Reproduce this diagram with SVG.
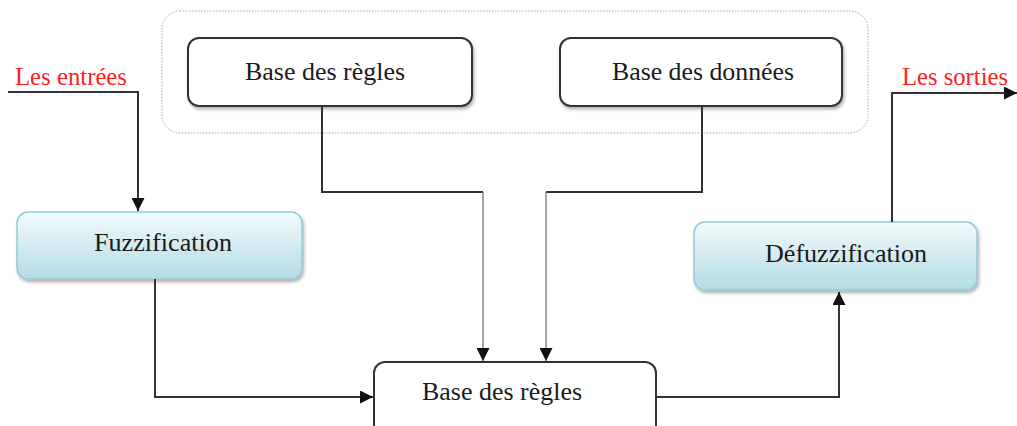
<svg xmlns="http://www.w3.org/2000/svg" width="1017" height="426" viewBox="0 0 1017 426">
<style>
.box{fill:#fff;stroke:#333;stroke-width:2}
.blue{fill:url(#g);stroke:#92cbd9;stroke-width:1.5}
text{font-family:'Liberation Serif','Times New Roman',Times,serif;font-size:26px}
.t{fill:#1a1a1a}
.r{fill:#ff2020}
.c{fill:none;stroke:#333;stroke-width:2}
.cl{fill:none;stroke:#777;stroke-width:1.3}
</style>
<defs>
<linearGradient id="g" x1="0" y1="0" x2="0" y2="1">
<stop offset="0" stop-color="#f2fafc"/>
<stop offset="1" stop-color="#b3dce5"/>
</linearGradient>
<filter id="sh" x="-10%" y="-10%" width="120%" height="130%">
<feDropShadow dx="1.5" dy="2.5" stdDeviation="1.5" flood-color="#000" flood-opacity="0.3"/>
</filter>
<marker id="a" viewBox="0 0 10 10" refX="10" refY="5" markerWidth="13" markerHeight="13" markerUnits="userSpaceOnUse" orient="auto">
<path d="M0,0 L10,5 L0,10 z" fill="#111"/>
</marker>
</defs>
<g id="container">
<rect x="162" y="11" width="706" height="122" rx="18" fill="none" stroke="#aaa" stroke-width="1" stroke-dasharray="1.5,1.5"/>
</g>
<g id="regles-top">
<rect class="box" x="188" y="38" width="284" height="68" rx="11" filter="url(#sh)"/>
<text class="t" x="325" y="80" text-anchor="middle" textLength="160" lengthAdjust="spacingAndGlyphs">Base des règles</text>
</g>
<g id="donnees">
<rect class="box" x="560" y="38" width="282" height="68" rx="11" filter="url(#sh)"/>
<text class="t" x="703" y="80" text-anchor="middle" textLength="182" lengthAdjust="spacingAndGlyphs">Base des données</text>
</g>
<g id="fuzzification">
<rect class="blue" x="17" y="212" width="285" height="67" rx="11" filter="url(#sh)"/>
<text class="t" x="163" y="251" text-anchor="middle" textLength="138" lengthAdjust="spacingAndGlyphs">Fuzzification</text>
</g>
<g id="defuzzification">
<rect class="blue" x="694" y="222" width="283" height="68" rx="11" filter="url(#sh)"/>
<text class="t" x="846" y="262" text-anchor="middle" textLength="162" lengthAdjust="spacingAndGlyphs">Défuzzification</text>
</g>
<g id="regles-bottom">
<rect class="box" x="374" y="362" width="282" height="80" rx="11"/>
<text class="t" x="502" y="400" text-anchor="middle" textLength="160" lengthAdjust="spacingAndGlyphs">Base des règles</text>
</g>
<g id="labels">
<text class="r" x="15" y="85" textLength="112" lengthAdjust="spacingAndGlyphs">Les entrées</text>
<text class="r" x="902" y="85" textLength="106" lengthAdjust="spacingAndGlyphs">Les sorties</text>
</g>
<g id="connectors">
<path class="c" d="M8,92 H138 V211" marker-end="url(#a)"/>
<path class="c" d="M892,222 V93 H1017" marker-end="url(#a)"/>
<path class="c" d="M322,106 V192 H483"/>
<path class="cl" d="M483,192 V361" marker-end="url(#a)"/>
<path class="c" d="M702,106 V192 H546"/>
<path class="cl" d="M546,192 V361" marker-end="url(#a)"/>
<path class="c" d="M155,279 V397 H373" marker-end="url(#a)"/>
<path class="c" d="M656,397 H839 V292" marker-end="url(#a)"/>
</g>
</svg>
